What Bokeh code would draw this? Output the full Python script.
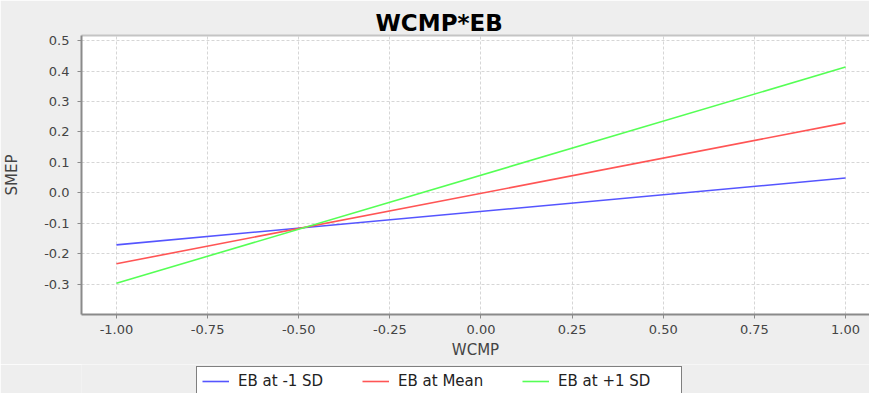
from bokeh.plotting import figure
from bokeh.layouts import column
from bokeh.models import (Range1d, FixedTicker, NumeralTickFormatter, Legend,
                          LegendItem, LinearAxis)
from bokeh.embed import file_html
from bokeh.resources import INLINE

# ---- data ----
wcmp = [-1.0, 1.0]
eb_minus_1sd = [-0.170, 0.049]
eb_mean = [-0.232, 0.230]
eb_plus_1sd = [-0.296, 0.413]
series_labels = ["EB at -1 SD", "EB at Mean", "EB at +1 SD"]
series_colors = ["#5555FF", "#FF5555", "#55FF55"]
x_ticks = [-1.0, -0.75, -0.5, -0.25, 0.0, 0.25, 0.5, 0.75, 1.0]
y_ticks = [-0.3, -0.2, -0.1, 0.0, 0.1, 0.2, 0.3, 0.4, 0.5]
title_text = "WCMP*EB"
x_label = "WCMP"
y_label = "SMEP"

FONT = "DejaVu Sans"
BG = "#EEEEEE"
W = 869
H1, H2 = 364, 29
FL, FT, FB = 80, 35, 50  # frame borders of the chart

p = figure(width=W, height=H1, output_backend="svg", toolbar_location=None,
           x_range=Range1d(-1.0959, 1.0658), y_range=Range1d(-0.3984, 0.5164),
           min_border_left=FL, min_border_right=0, min_border_top=FT,
           min_border_bottom=FB, background_fill_color="white",
           border_fill_color=BG, outline_line_color=None)

# title (left-aligned with offset so it is centred on the whole canvas)
p.title.text = title_text
p.title.align = "left"
p.title.offset = 294
p.title.text_font = FONT
p.title.text_font_style = "bold"
p.title.text_font_size = "23px"
p.title.text_color = "black"
p.title.standoff = 0

# series
renderers = []
for ys, c in zip([eb_minus_1sd, eb_mean, eb_plus_1sd], series_colors):
    renderers.append(p.line(wcmp, ys, line_color=c, line_width=1.6))

# axes
for ax in (p.xaxis[0], p.yaxis[0]):
    ax.axis_line_color = "#8A8A8A"
    ax.axis_line_width = 2
    ax.major_tick_line_color = "#8A8A8A"
    ax.major_tick_out = 4
    ax.major_tick_in = 0
    ax.minor_tick_out = 0
    ax.minor_tick_in = 0
    ax.major_label_text_font = FONT
    ax.major_label_text_font_size = "13px"
    ax.major_label_text_color = "#444444"
    ax.axis_label_text_font = FONT
    ax.axis_label_text_font_size = "15px"
    ax.axis_label_text_font_style = "normal"
    ax.axis_label_text_color = "#444444"

p.xaxis[0].ticker = FixedTicker(ticks=x_ticks)
p.xaxis[0].formatter = NumeralTickFormatter(format="0.00")
p.xaxis[0].major_label_standoff = 6
p.xaxis[0].axis_label = x_label
p.xaxis[0].axis_label_standoff = 4

p.yaxis[0].ticker = FixedTicker(ticks=y_ticks)
p.yaxis[0].formatter = NumeralTickFormatter(format="0.0")
p.yaxis[0].major_label_standoff = 8
p.yaxis[0].axis_label = y_label
p.yaxis[0].axis_label_standoff = 20

# top frame line (its empty tick space lifts the title off the frame)
top = LinearAxis(ticker=FixedTicker(ticks=[]), axis_line_color="#C4C4C4",
                 axis_line_width=2, major_tick_out=6, major_tick_in=0,
                 minor_tick_out=0, minor_tick_in=0,
                 major_label_text_font_size="0px")
p.add_layout(top, "above")

# grids
for g in (p.xgrid[0], p.ygrid[0]):
    g.grid_line_color = "#D6D6D6"
    g.grid_line_dash = "3 2"
    g.grid_line_width = 1

# ---- legend strip under the chart ----
lg = figure(width=W, height=H2, output_backend="svg", toolbar_location=None,
            x_axis_type=None, y_axis_type=None, min_border=0,
            min_border_left=0, min_border_right=0, min_border_top=0,
            min_border_bottom=0, background_fill_color=BG,
            border_fill_color=BG, outline_line_color=None)
lg.grid.visible = False
leg_renderers = []
for ys, c in zip([eb_minus_1sd, eb_mean, eb_plus_1sd], series_colors):
    r = lg.line(wcmp, ys, line_color=c, line_width=1.6)
    r.visible = False
    leg_renderers.append(r)

legend = Legend(items=[LegendItem(label=l, renderers=[r])
                       for l, r in zip(series_labels, leg_renderers)],
                orientation="horizontal", location=(115, -3),
                glyph_width=27, glyph_height=18, label_standoff=9,
                label_width=118, label_height=18, spacing=6, padding=5,
                margin=0, border_line_color="black", border_line_width=1.5,
                background_fill_color="white", background_fill_alpha=1,
                label_text_font=FONT, label_text_font_size="15px",
                label_text_color="#222222")
lg.add_layout(legend, "center")

layout = column(p, lg, spacing=0)
open("out.html", "w").write(file_html(layout, INLINE))
